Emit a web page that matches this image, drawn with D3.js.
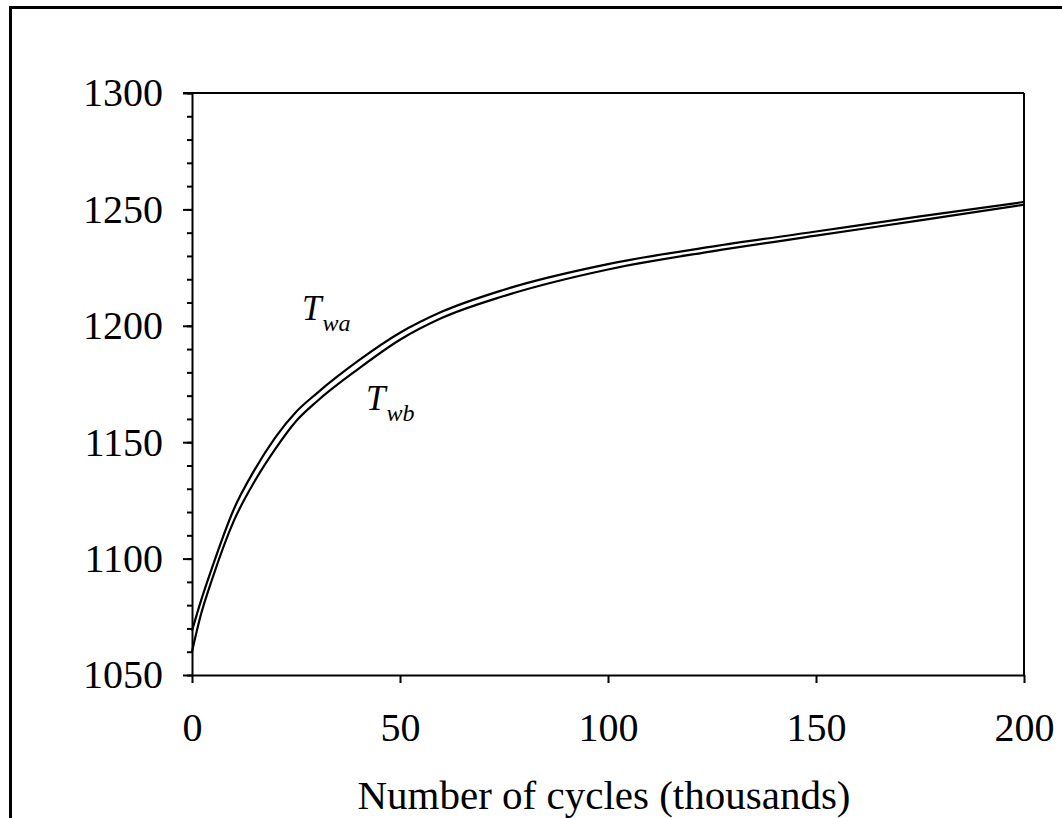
<!DOCTYPE html>
<head>
  <meta charset="utf-8">
  <script src="https://d3js.org/d3.v7.min.js"></script>
  <style>
    body { margin: 0; background: #fff; }
    svg { width: 1062px; height: 818px; display: block; }
    text { font-family: "Liberation Serif", "Times New Roman", serif; fill: #000; }
  </style>
</head>

<body>
  <svg></svg>

  <script>
    const width = 1062;
    const height = 818;

    // cycles (thousands)
    const cycles = [0, 2, 5, 10, 15, 20, 25, 30, 40, 50, 60, 75, 100, 125, 150, 175, 200];
    // wall temperatures
    const twa = [1069, 1081, 1097, 1121, 1138, 1152, 1163, 1171, 1185, 1197, 1206, 1215.5, 1226.5, 1234, 1240.5, 1247, 1253.2];
    const twb = [1060, 1075, 1092, 1116, 1133, 1147, 1159, 1167.5, 1181.5, 1194, 1203.3, 1212.8, 1224.2, 1232, 1238.7, 1245.3, 1252];

    const xTicks = [0, 50, 100, 150, 200];
    const yTicks = [1050, 1100, 1150, 1200, 1250, 1300];
    const yMinor = d3.range(1050, 1301, 10);

    const svg = d3.select('svg');

    // outer frame, right and bottom edges fall outside the picture
    svg.append('rect')
      .attr('x', 10.5).attr('y', 7.5)
      .attr('width', 1200).attr('height', 1000)
      .attr('fill', 'none')
      .attr('stroke', '#000')
      .attr('stroke-width', 3);

    const plot = { left: 192, right: 1024, top: 93, bottom: 675 };

    const x = d3.scaleLinear().domain([0, 200]).range([plot.left, plot.right]);
    const y = d3.scaleLinear().domain([1050, 1300]).range([plot.bottom, plot.top]);

    /*****************************************************
    ** axes
    ******************************************************/

    const yMinorAxis = svg.append('g')
      .attr('transform', `translate(${plot.left},0)`)
      .call(d3.axisLeft(y).tickValues(yMinor).tickSize(5).tickSizeOuter(0).tickFormat(''));
    yMinorAxis.select('.domain').remove();

    const yAxis = svg.append('g')
      .attr('transform', `translate(${plot.left},0)`)
      .call(d3.axisLeft(y).tickValues(yTicks).tickSize(9).tickSizeOuter(0)
        .tickPadding(20).tickFormat(d3.format('d')));

    const xAxis = svg.append('g')
      .attr('transform', `translate(0,${plot.bottom})`)
      .call(d3.axisBottom(x).tickValues(xTicks).tickSize(8).tickSizeOuter(0)
        .tickPadding(30).tickFormat(d3.format('d')));

    svg.selectAll('.tick line, .domain')
      .attr('stroke', '#000')
      .attr('stroke-width', 2);

    svg.selectAll('.tick text')
      .style('font-family', '"Liberation Serif", "Times New Roman", serif')
      .style('font-size', '40px')
      .attr('fill', '#000');

    // top and right border of the plot
    svg.append('line')
      .attr('x1', x(0) - 9).attr('x2', x(200))
      .attr('y1', y(1300)).attr('y2', y(1300))
      .attr('stroke', '#000').attr('stroke-width', 2);
    svg.append('line')
      .attr('x1', x(200)).attr('x2', x(200))
      .attr('y1', y(1300)).attr('y2', y(1050))
      .attr('stroke', '#000').attr('stroke-width', 2);

    svg.append('text')
      .attr('x', 604)
      .attr('y', 809)
      .attr('text-anchor', 'middle')
      .style('font-size', '41px')
      .text('Number of cycles (thousands)');

    /*****************************************************
    ** curves
    ******************************************************/

    const line = d3.line()
      .x(d => x(d[0]))
      .y(d => y(d[1]))
      .curve(d3.curveMonotoneX);

    [twa, twb].forEach(series => {
      svg.append('path')
        .datum(cycles.map((c, i) => [c, series[i]]))
        .attr('d', line)
        .attr('fill', 'none')
        .attr('stroke', '#000')
        .attr('stroke-width', 2.2);
    });

    // curve labels
    const labels = [
      { main: 'T', sub: 'wa', x: 302, y: 320 },
      { main: 'T', sub: 'wb', x: 366, y: 410 }
    ];

    labels.forEach(l => {
      const t = svg.append('text')
        .attr('x', l.x).attr('y', l.y)
        .style('font-style', 'italic')
        .style('font-size', '35px');
      t.append('tspan').text(l.main);
      t.append('tspan')
        .attr('dy', 11)
        .attr('dx', 1)
        .style('font-size', '24px')
        .text(l.sub);
    });
  </script>
</body>
